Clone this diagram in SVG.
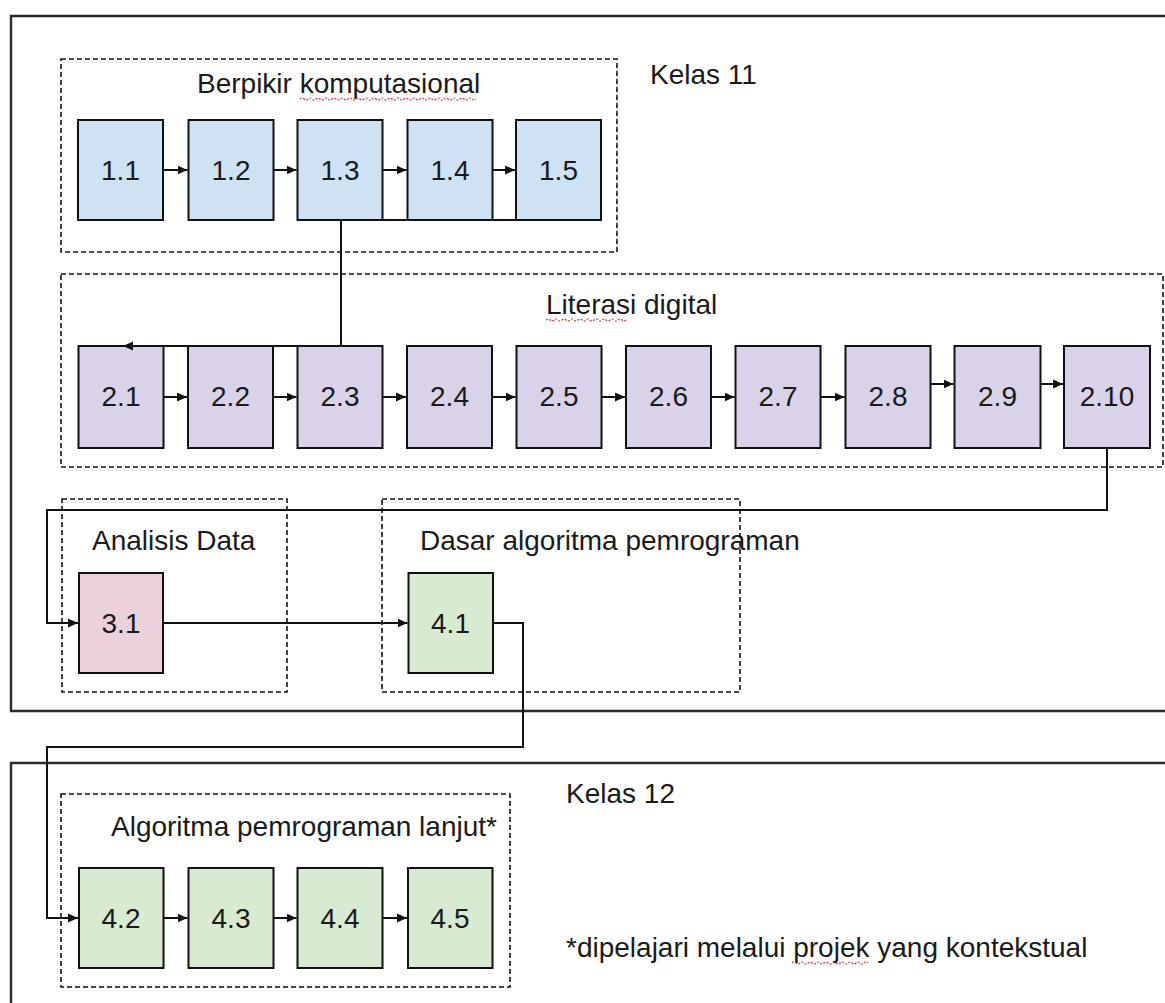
<svg xmlns="http://www.w3.org/2000/svg" width="1165" height="1003" viewBox="0 0 1165 1003">
<style>
  text { font-family: "Liberation Sans", Arial, sans-serif; fill: #1a1a1a; }
  .title { font-size: 28px; }
  .lbl { font-size: 28px; text-anchor: middle; }
  .frame { fill: none; stroke: #2b2b2b; stroke-width: 2.4; }
  .grp { fill: none; stroke: #111; stroke-width: 1.6; stroke-dasharray: 5 3; }
  .box { stroke: #111; stroke-width: 2; }
  .b1 { fill: #cfe2f3; }
  .b2 { fill: #d9d2e9; }
  .b3 { fill: #ead1dc; }
  .b4 { fill: #d9ead3; }
  .con { fill: none; stroke: #111; stroke-width: 2; }
  .spell { fill: none; stroke: #e03030; stroke-width: 1.2; stroke-dasharray: 2 1.5; }
</style>
<defs>
  <marker id="ah" markerUnits="userSpaceOnUse" markerWidth="11" markerHeight="10" refX="10" refY="5" orient="auto">
    <path d="M0,0.5 L10,5 L0,9.5 Z" fill="#111"/>
  </marker>
</defs>

<g id="frame-kelas11">
  <path class="frame" d="M1170,16 H11 V711 H1170"/>
  <text class="title" x="650" y="84">Kelas 11</text>
</g>
<g id="frame-kelas12">
  <path class="frame" d="M1170,763 H11 V1010"/>
  <text class="title" x="566" y="803">Kelas 12</text>
  <text class="title" x="566" y="957">*dipelajari melalui projek yang kontekstual</text>
  <path class="spell" d="M792,963 q2,-2 4,0 t4,0 t4,0 t4,0 t4,0 t4,0 t4,0 t4,0 t4,0 t4,0 t4,0 t4,0 t4,0 t4,0 t4,0 t4,0 t4,0 t4,0 t4,0"/>
</g>

<g id="group-berpikir">
  <rect class="grp" x="61" y="59" width="556" height="193"/>
  <text class="title" x="197" y="93">Berpikir komputasional</text>
  <path class="spell" d="M300,99 q2,-2 4,0 t4,0 t4,0 t4,0 t4,0 t4,0 t4,0 t4,0 t4,0 t4,0 t4,0 t4,0 t4,0 t4,0 t4,0 t4,0 t4,0 t4,0 t4,0 t4,0 t4,0 t4,0 t4,0 t4,0 t4,0 t4,0 t4,0 t4,0 t4,0 t4,0 t4,0 t4,0 t4,0 t4,0 t4,0 t4,0 t4,0 t4,0 t4,0 t4,0 t4,0 t4,0 t4,0 t4,0"/>
</g>
<g id="group-literasi">
  <rect class="grp" x="61" y="274" width="1102" height="193"/>
  <text class="title" x="546" y="314">Literasi digital</text>
  <path class="spell" d="M546,320 q2,-2 4,0 t4,0 t4,0 t4,0 t4,0 t4,0 t4,0 t4,0 t4,0 t4,0 t4,0 t4,0 t4,0 t4,0 t4,0 t4,0 t4,0 t4,0 t4,0 t4,0"/>
</g>
<g id="group-analisis">
  <rect class="grp" x="62" y="499" width="225" height="193"/>
  <text class="title" x="92" y="550">Analisis Data</text>
</g>
<g id="group-dasar">
  <rect class="grp" x="382" y="499" width="358" height="193"/>
  <text class="title" x="420" y="550">Dasar algoritma pemrograman</text>
</g>
<g id="group-lanjut">
  <rect class="grp" x="61" y="794" width="449" height="193"/>
  <text class="title" x="111" y="836">Algoritma pemrograman lanjut*</text>
</g>

<g id="n1-1"><rect class="box b1" x="78" y="120" width="85" height="100"/><text class="lbl" x="120.5" y="180">1.1</text></g>
<g id="n1-2"><rect class="box b1" x="188.5" y="120" width="85" height="100"/><text class="lbl" x="231" y="180">1.2</text></g>
<g id="n1-3"><rect class="box b1" x="297.5" y="120" width="85" height="100"/><text class="lbl" x="340" y="180">1.3</text></g>
<g id="n1-4"><rect class="box b1" x="407.5" y="120" width="85" height="100"/><text class="lbl" x="450" y="180">1.4</text></g>
<g id="n1-5"><rect class="box b1" x="516" y="120" width="85" height="100"/><text class="lbl" x="558.5" y="180">1.5</text></g>

<g id="n2-1"><rect class="box b2" x="78.5" y="346" width="85" height="102"/><text class="lbl" x="121" y="406">2.1</text></g>
<g id="n2-2"><rect class="box b2" x="188" y="346" width="85" height="102"/><text class="lbl" x="230.5" y="406">2.2</text></g>
<g id="n2-3"><rect class="box b2" x="297.5" y="346" width="85" height="102"/><text class="lbl" x="340" y="406">2.3</text></g>
<g id="n2-4"><rect class="box b2" x="407" y="346" width="85" height="102"/><text class="lbl" x="449.5" y="406">2.4</text></g>
<g id="n2-5"><rect class="box b2" x="516.5" y="346" width="85" height="102"/><text class="lbl" x="559" y="406">2.5</text></g>
<g id="n2-6"><rect class="box b2" x="626" y="346" width="85" height="102"/><text class="lbl" x="668.5" y="406">2.6</text></g>
<g id="n2-7"><rect class="box b2" x="735.5" y="346" width="85" height="102"/><text class="lbl" x="778" y="406">2.7</text></g>
<g id="n2-8"><rect class="box b2" x="845.5" y="346" width="85" height="102"/><text class="lbl" x="888" y="406">2.8</text></g>
<g id="n2-9"><rect class="box b2" x="954.5" y="346" width="86" height="102"/><text class="lbl" x="997.5" y="406">2.9</text></g>
<g id="n2-10"><rect class="box b2" x="1064" y="346" width="86" height="102"/><text class="lbl" x="1107" y="406">2.10</text></g>

<g id="n3-1"><rect class="box b3" x="79" y="573" width="84" height="100"/><text class="lbl" x="121" y="633">3.1</text></g>
<g id="n4-1"><rect class="box b4" x="408.5" y="573" width="84.5" height="100"/><text class="lbl" x="450.5" y="633">4.1</text></g>

<g id="n4-2"><rect class="box b4" x="79" y="868" width="84.5" height="100"/><text class="lbl" x="121" y="928">4.2</text></g>
<g id="n4-3"><rect class="box b4" x="188.5" y="868" width="85" height="100"/><text class="lbl" x="231" y="928">4.3</text></g>
<g id="n4-4"><rect class="box b4" x="297.5" y="868" width="85" height="100"/><text class="lbl" x="340" y="928">4.4</text></g>
<g id="n4-5"><rect class="box b4" x="408" y="868" width="84.5" height="100"/><text class="lbl" x="450" y="928">4.5</text></g>

<g id="connectors">
  <path class="con" d="M163,170 H187.5" marker-end="url(#ah)"/>
  <path class="con" d="M273.5,170 H296.5" marker-end="url(#ah)"/>
  <path class="con" d="M382.5,170 H406.5" marker-end="url(#ah)"/>
  <path class="con" d="M492.5,170 H515" marker-end="url(#ah)"/>
  <path class="con" d="M382.5,220 H516"/>
  <path class="con" d="M341,220 V346 H123" marker-end="url(#ah)"/>

  <path class="con" d="M163.5,397 H187" marker-end="url(#ah)"/>
  <path class="con" d="M273,397 H296.5" marker-end="url(#ah)"/>
  <path class="con" d="M382.5,397 H406" marker-end="url(#ah)"/>
  <path class="con" d="M492,397 H515.5" marker-end="url(#ah)"/>
  <path class="con" d="M601.5,397 H625" marker-end="url(#ah)"/>
  <path class="con" d="M711,397 H734.5" marker-end="url(#ah)"/>
  <path class="con" d="M820.5,397 H844.5" marker-end="url(#ah)"/>
  <path class="con" d="M930.5,384 H953.5" marker-end="url(#ah)"/>
  <path class="con" d="M1040.5,384 H1063" marker-end="url(#ah)"/>

  <path class="con" d="M1107,448 V510 H47 V623 H78" marker-end="url(#ah)"/>
  <path class="con" d="M163,623 H407.5" marker-end="url(#ah)"/>
  <path class="con" d="M493,623 H523 V747 H47 V918 H78" marker-end="url(#ah)"/>

  <path class="con" d="M163.5,918 H187.5" marker-end="url(#ah)"/>
  <path class="con" d="M273.5,918 H296.5" marker-end="url(#ah)"/>
  <path class="con" d="M382.5,918 H407" marker-end="url(#ah)"/>
</g>
</svg>
